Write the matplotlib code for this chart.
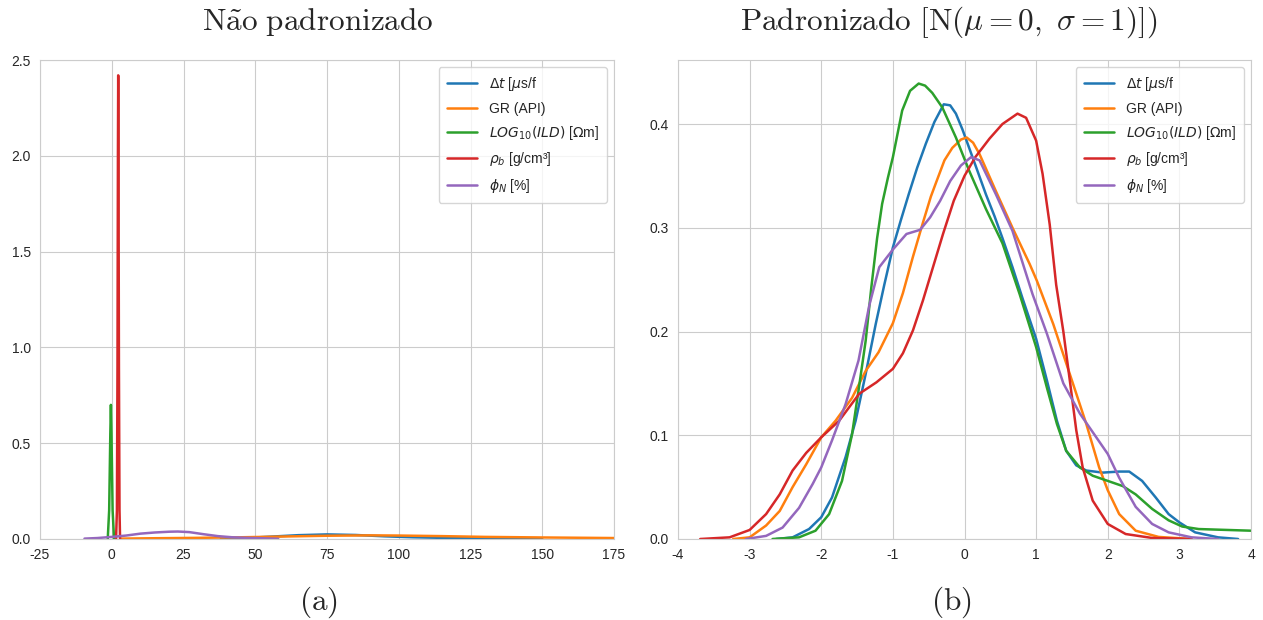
import matplotlib
matplotlib.use("Agg")
import matplotlib.pyplot as plt
import seaborn as sns

sns.set_style("whitegrid")
plt.rcParams['font.family'] = ['Liberation Sans', 'DejaVu Sans']
plt.rcParams['axes.unicode_minus'] = False

labels = [r'$\Delta t$ [$\mu$s/f', 'GR (API)', r'$LOG_{10}(ILD)$ [$\Omega$m]',
          r'$\rho_b$ [g/cm³]', r'$\phi_N$ [%]']
colors = ['#1f77b4', '#ff7f0e', '#2ca02c', '#d62728', '#9467bd']

# (a) raw densities
raw_dt_x = [38, 45, 55, 65, 75, 85, 95, 105, 115, 125, 135, 150]
raw_dt_y = [0.0, 0.004, 0.012, 0.020, 0.024, 0.021, 0.014, 0.009, 0.006, 0.004, 0.002, 0.0005]
raw_gr_x = [3, 15, 30, 45, 60, 75, 90, 100, 115, 130, 150, 175]
raw_gr_y = [0.002, 0.004, 0.006, 0.009, 0.013, 0.017, 0.019, 0.018, 0.015, 0.011, 0.008, 0.005]
raw_ild_x = [-1.4, -0.9, -0.5, -0.3, -0.1, 0.3, 0.8]
raw_ild_y = [0.0, 0.15, 0.55, 0.70, 0.55, 0.15, 0.0]
raw_rho_x = [1.5, 1.8, 2.0, 2.15, 2.25, 2.35, 2.5, 2.7, 2.9]
raw_rho_y = [0.0, 0.15, 0.9, 2.0, 2.42, 2.0, 0.9, 0.15, 0.0]
raw_phi_x = [-9.5, -5, 0, 5, 10, 15, 20, 23, 27, 32, 37, 42, 47, 52, 58]
raw_phi_y = [0.002, 0.005, 0.011, 0.018, 0.028, 0.034, 0.038, 0.039, 0.036, 0.025,
             0.015, 0.009, 0.006, 0.004, 0.001]

# (b) standardized densities
std_dt_x = [-2.63, -2.40, -2.17, -2.0, -1.85, -1.66, -1.52, -1.38, -1.24, -1.12, -1.0, -0.89,
            -0.78, -0.66, -0.54, -0.42, -0.29, -0.2, -0.12, -0.03, 0.065, 0.18, 0.30, 0.42,
            0.53, 0.67, 0.81, 1.0, 1.15, 1.29, 1.42, 1.56, 1.70, 1.93, 2.16, 2.30, 2.48,
            2.67, 2.85, 3.0, 3.22, 3.54, 3.82]
std_dt_y = [0.0, 0.0016, 0.0096, 0.021, 0.040, 0.079, 0.114, 0.159, 0.207, 0.245, 0.281, 0.307,
            0.332, 0.358, 0.381, 0.402, 0.419, 0.418, 0.410, 0.395, 0.377, 0.355, 0.332, 0.311,
            0.290, 0.262, 0.232, 0.193, 0.153, 0.114, 0.085, 0.071, 0.066, 0.064, 0.065, 0.065,
            0.056, 0.040, 0.024, 0.016, 0.0064, 0.0016, 0.0]
std_gr_x = [-3.23, -3.0, -2.77, -2.58, -2.40, -2.21, -2.0, -1.80, -1.57, -1.38, -1.2, -1.0,
            -0.86, -0.72, -0.58, -0.47, -0.40, -0.28, -0.17, -0.05, 0.03, 0.12, 0.21, 0.44,
            0.67, 0.91, 1.01, 1.24, 1.47, 1.70, 1.88, 2.0, 2.16, 2.39, 2.71, 3.17]
std_gr_y = [0.0, 0.0016, 0.013, 0.027, 0.050, 0.072, 0.098, 0.114, 0.136, 0.162, 0.180, 0.208,
            0.237, 0.272, 0.305, 0.330, 0.343, 0.365, 0.377, 0.385, 0.387, 0.382, 0.371, 0.335,
            0.300, 0.265, 0.249, 0.207, 0.159, 0.111, 0.069, 0.047, 0.024, 0.008, 0.002, 0.0]
std_ild_x = [-2.68, -2.31, -2.08, -1.89, -1.71, -1.57, -1.48, -1.38, -1.30, -1.22, -1.15, -1.07,
             -1.0, -0.87, -0.76, -0.64, -0.55, -0.45, -0.31, -0.12, 0.065, 0.30, 0.53, 0.77,
             1.0, 1.15, 1.29, 1.42, 1.61, 1.79, 2.0, 2.21, 2.39, 2.62, 2.85, 3.04, 3.27, 3.54, 4.0]
std_ild_y = [0.0, 0.0016, 0.008, 0.024, 0.056, 0.101, 0.143, 0.191, 0.243, 0.290, 0.323, 0.348,
             0.368, 0.413, 0.432, 0.439, 0.437, 0.430, 0.416, 0.387, 0.355, 0.318, 0.285, 0.236,
             0.185, 0.146, 0.111, 0.085, 0.069, 0.061, 0.056, 0.051, 0.043, 0.029, 0.018, 0.012,
             0.0096, 0.009, 0.008]
std_rho_x = [-3.69, -3.28, -3.0, -2.77, -2.58, -2.40, -2.21, -2.0, -1.75, -1.47, -1.23, -1.0,
             -0.86, -0.72, -0.58, -0.44, -0.30, -0.15, 0.0, 0.15, 0.35, 0.53, 0.74, 0.86, 1.0,
             1.09, 1.19, 1.28, 1.38, 1.47, 1.56, 1.65, 1.79, 2.0, 2.25, 2.62, 3.17]
std_rho_y = [0.0, 0.0016, 0.0087, 0.024, 0.043, 0.066, 0.083, 0.098, 0.114, 0.140, 0.151, 0.164,
             0.179, 0.201, 0.230, 0.262, 0.294, 0.326, 0.350, 0.368, 0.386, 0.400, 0.410, 0.406,
             0.384, 0.352, 0.303, 0.245, 0.200, 0.153, 0.105, 0.069, 0.037, 0.0145, 0.0048,
             0.001, 0.0]
std_phi_x = [-3.05, -2.77, -2.54, -2.31, -2.12, -2.0, -1.85, -1.66, -1.48, -1.33, -1.19, -1.0,
             -0.81, -0.62, -0.48, -0.34, -0.2, -0.05, 0.09, 0.21, 0.44, 0.67, 0.95, 1.15, 1.38,
             1.61, 1.84, 2.0, 2.16, 2.39, 2.62, 2.85, 3.17, 3.54]
std_phi_y = [0.0, 0.003, 0.011, 0.030, 0.053, 0.069, 0.095, 0.130, 0.172, 0.225, 0.262, 0.279,
             0.294, 0.298, 0.310, 0.326, 0.345, 0.360, 0.368, 0.365, 0.332, 0.297, 0.236, 0.198,
             0.150, 0.121, 0.098, 0.082, 0.059, 0.031, 0.0145, 0.0064, 0.0016, 0.0]

raw = [(raw_dt_x, raw_dt_y), (raw_gr_x, raw_gr_y), (raw_ild_x, raw_ild_y),
       (raw_rho_x, raw_rho_y), (raw_phi_x, raw_phi_y)]
std = [(std_dt_x, std_dt_y), (std_gr_x, std_gr_y), (std_ild_x, std_ild_y),
       (std_rho_x, std_rho_y), (std_phi_x, std_phi_y)]

fig = plt.figure(figsize=(12.63, 6.2), dpi=100)
ax1 = fig.add_axes([40 / 1263, 81 / 620, 574 / 1263, 479 / 620])
ax2 = fig.add_axes([678 / 1263, 81 / 620, 573 / 1263, 479 / 620])

for (x, y), c, lab in zip(raw, colors, labels):
    ax1.plot(x, y, color=c, lw=1.8, label=lab, solid_joinstyle='round')
for (x, y), c, lab in zip(std, colors, labels):
    ax2.plot(x, y, color=c, lw=1.8, label=lab, solid_joinstyle='round')

ax1.set_xlim(-25, 175)
ax1.set_ylim(0, 2.5)
ax1.set_xticks(range(-25, 176, 25))
ax1.set_yticks([0, 0.5, 1.0, 1.5, 2.0, 2.5])
ax2.set_xlim(-4, 4)
ax2.set_ylim(0, 0.4617)
ax2.set_xticks(range(-4, 5))
ax2.set_yticks([0, 0.1, 0.2, 0.3, 0.4])

for ax in (ax1, ax2):
    ax.tick_params(labelsize=10, colors='#262626', pad=3)
    ax.legend(loc='upper right', fontsize=10, frameon=True, edgecolor='#cccccc',
              handlelength=2.2, borderpad=0.6, labelspacing=0.6)

fig.text(318 / 1263, 1 - 22 / 620, r'$\mathrm{N\tilde{a}o\ padronizado}$',
         fontsize=22.5, math_fontfamily='cm', ha='center', va='center')
fig.text(949 / 1263, 1 - 22 / 620,
         r'$\mathrm{Padronizado\ [N(}\mu=0,\ \sigma=1\mathrm{)])}$',
         fontsize=22.5, math_fontfamily='cm', ha='center', va='center')
fig.text(318 / 1263, 1 - 602 / 620, r'$\mathrm{(a)}$', fontsize=22.5,
         math_fontfamily='cm', ha='center', va='center')
fig.text(951 / 1263, 1 - 602 / 620, r'$\mathrm{(b)}$', fontsize=22.5,
         math_fontfamily='cm', ha='center', va='center')

fig.savefig('out.png', dpi=100)
